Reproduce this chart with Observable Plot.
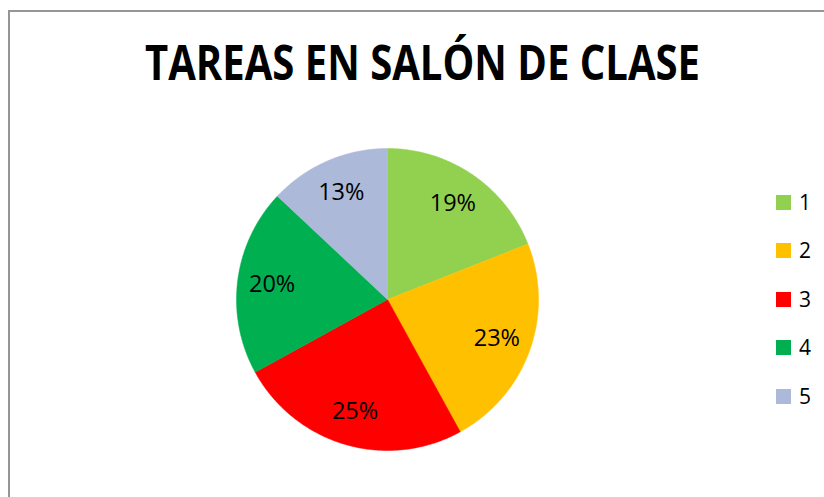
<!DOCTYPE html>
<html>
<head>
<meta charset="utf-8">
<script src="https://cdn.jsdelivr.net/npm/d3@7"></script>
<script src="https://cdn.jsdelivr.net/npm/@observablehq/plot@0.6"></script>
<style>
  html, body { margin: 0; padding: 0; background: #fff; }
  #wrap { position: relative; width: 824px; height: 497px; overflow: hidden; font-family: "Open Sans", sans-serif; }
  #frame { position: absolute; left: 8px; top: 10px; width: 900px; height: 600px; border: 2px solid #959595; box-sizing: border-box; }
  #title { position: absolute; left: 0; top: 0; }
  #pie { position: absolute; left: 226.5px; top: 138.5px; }
  #legend { position: absolute; left: 776px; top: 177.75px; }
  .row { display: flex; align-items: center; height: 48.5px; }
  .sw { width: 15px; height: 15px; margin-right: 8px; }
  .lb { font-size: 21px; line-height: 1; color: #000; }
</style>
</head>
<body>
<div id="wrap">
  <div id="frame"></div>
  <svg id="title" width="824" height="100">
    <text x="422.5" y="80" text-anchor="middle" font-family="Open Sans" font-weight="bold" font-size="49" textLength="555" lengthAdjust="spacingAndGlyphs" fill="#000">TAREAS EN SALÓN DE CLASE</text>
  </svg>
  <div id="pie"></div>
  <div id="legend"></div>
</div>
<script>
const categories = ["1", "2", "3", "4", "5"];
const values = [19, 23, 25, 20, 13];
const pctLabels = ["19%", "23%", "25%", "20%", "13%"];
const colors = ["#92D050", "#FFC000", "#FF0000", "#00B050", "#ACB9D8"];

const arcs = d3.pie().sort(null).value(d => d)(values);

// slice outlines from the pie angles
const slicePts = [];
arcs.forEach((a, i) => {
  const key = categories[i];
  slicePts.push({key, x: 0, y: 0});
  const n = Math.max(2, Math.ceil((a.endAngle - a.startAngle) / 0.01));
  for (let k = 0; k <= n; k++) {
    const t = a.startAngle + (a.endAngle - a.startAngle) * k / n;
    slicePts.push({key, x: Math.sin(t), y: Math.cos(t)});
  }
  slicePts.push({key, x: 0, y: 0});
});

const labelPts = arcs.map((a, i) => {
  const m = (a.startAngle + a.endAngle) / 2;
  const r = 0.77;
  return {key: categories[i], text: pctLabels[i], x: Math.sin(m) * r, y: Math.cos(m) * r};
});

const k = 160 / 151;
const pie = Plot.plot({
  width: 320,
  height: 320,
  margin: 0,
  x: {domain: [-k, k], axis: null},
  y: {domain: [-k, k], axis: null},
  color: {domain: categories, range: colors},
  style: {background: "transparent", overflow: "visible"},
  marks: [
    Plot.line(slicePts, {x: "x", y: "y", z: "key", fill: "key", stroke: "key", strokeWidth: 0.5, curve: "linear"}),
    Plot.text(labelPts, {x: "x", y: "y", text: "text", fill: "#000", fontSize: 23.5, fontFamily: "Open Sans"})
  ]
});
document.getElementById("pie").appendChild(pie);

const legend = document.getElementById("legend");
categories.forEach((c, i) => {
  const row = document.createElement("div");
  row.className = "row";
  const sw = document.createElement("div");
  sw.className = "sw";
  sw.style.background = colors[i];
  const lb = document.createElement("span");
  lb.className = "lb";
  lb.textContent = c;
  row.appendChild(sw);
  row.appendChild(lb);
  legend.appendChild(row);
});
</script>
</body>
</html>
